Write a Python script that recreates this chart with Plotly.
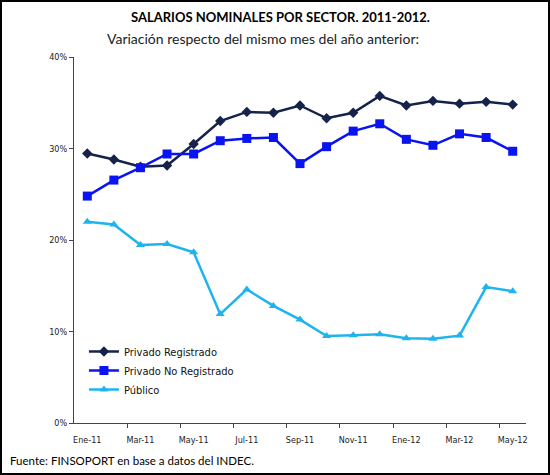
import plotly.graph_objects as go

months = ["Ene-11", "Feb-11", "Mar-11", "Abr-11", "May-11", "Jun-11", "Jul-11", "Ago-11",
          "Sep-11", "Oct-11", "Nov-11", "Dic-11", "Ene-12", "Feb-12", "Mar-12", "Abr-12", "May-12"]
privado_registrado = [29.45, 28.8, 28.0, 28.15, 30.5, 33.0, 34.0, 33.9, 34.7, 33.3, 33.9,
                      35.75, 34.7, 35.2, 34.9, 35.1, 34.8]
privado_no_registrado = [24.8, 26.55, 27.9, 29.4, 29.4, 30.85, 31.1, 31.2, 28.35, 30.2, 31.9,
                         32.7, 31.0, 30.35, 31.6, 31.2, 29.7]
publico = [22.0, 21.7, 19.45, 19.55, 18.65, 11.9, 14.6, 12.8, 11.3, 9.5, 9.6, 9.7, 9.25, 9.2,
           9.55, 14.85, 14.4]
y_ticks = [0, 10, 20, 30, 40]
y_labels = ["0%", "10%", "20%", "30%", "40%"]

tick_font = dict(family="Liberation Sans Narrow, DejaVu Sans Condensed, Arial Narrow, sans-serif",
                 size=9, color="#222")

fig = go.Figure()
series = [
    ("Privado Registrado", privado_registrado, "#15224A", "diamond", 8),
    ("Privado No Registrado", privado_no_registrado, "#0A14F0", "square", 9),
    ("Público", publico, "#1EB4EE", "triangle-up", 8),
]
for name, vals, col, sym, sz in series:
    fig.add_trace(go.Scatter(x=months, y=vals, name=name, mode="lines+markers",
                             line=dict(color=col, width=2.5),
                             marker=dict(symbol=sym, size=sz, color=col)))

L, R, T, B = 74, 24, 57, 52
W, H = 550, 475
pw, ph = W - L - R, H - T - B

fig.update_layout(
    width=W, height=H,
    margin=dict(l=L, r=R, t=T, b=B),
    paper_bgcolor="white", plot_bgcolor="white",
    showlegend=True,
    legend=dict(x=0.022, y=0.235, xanchor="left", yanchor="top",
                font=dict(family="Liberation Sans Narrow, DejaVu Sans Condensed, sans-serif",
                          size=11, color="#111"),
                bgcolor="rgba(0,0,0,0)", tracegroupgap=0, itemwidth=30),
    xaxis=dict(type="category", range=[-0.5, 16.5], tickvals=months[::2],
               ticks="", showline=True, linecolor="#444", linewidth=1,
               ticklabelstandoff=8,
               showgrid=False, tickfont=tick_font, zeroline=False),
    xaxis2=dict(overlaying="x", range=[-0.5, 16.5], tickvals=[1.5, 3.5, 5.5, 7.5, 9.5, 11.5, 13.5, 15.5],
                ticks="outside", ticklen=4, tickcolor="#444", showticklabels=False,
                showline=False, showgrid=False, zeroline=False, anchor="y", side="bottom"),
    yaxis=dict(range=[0, 40], tickvals=y_ticks, ticktext=y_labels, ticks="outside",
               ticklen=4, tickcolor="#444", showline=True, linecolor="#444", linewidth=1,
               showgrid=False, zeroline=False, tickfont=tick_font),
    annotations=[
        dict(text="<b>SALARIOS NOMINALES POR SECTOR. 2011-2012.</b>", xref="paper", yref="paper",
             x=(280 - L) / pw, y=1 + (T - 17) / ph, showarrow=False, xanchor="center", yanchor="middle",
             font=dict(family="Lato, Open Sans, sans-serif", size=13, color="black")),
        dict(text="Variación respecto del mismo mes del año anterior:", xref="paper", yref="paper",
             x=(263 - L) / pw, y=1 + (T - 38) / ph, showarrow=False, xanchor="center", yanchor="middle",
             font=dict(family="Lato, Open Sans, sans-serif", size=14, color="#222")),
        dict(text="Fuente: FINSOPORT en base a datos del INDEC.", xref="paper", yref="paper",
             x=-(L - 8) / pw, y=-(460 - (H - B)) / ph, showarrow=False, xanchor="left", yanchor="middle",
             font=dict(family="Lato, Open Sans, sans-serif", size=11.5, color="black")),
    ],
    shapes=[dict(type="rect", xref="paper", yref="paper",
                 x0=-(L - 1) / pw, x1=1 + (R - 1) / pw, y0=-(B - 1) / ph, y1=1 + (T - 1) / ph,
                 line=dict(color="black", width=2), fillcolor="rgba(0,0,0,0)")],
)
fig.add_trace(go.Scatter(x=[None], y=[None], xaxis="x2", showlegend=False, hoverinfo="skip"))

fig.write_html("out.html")
